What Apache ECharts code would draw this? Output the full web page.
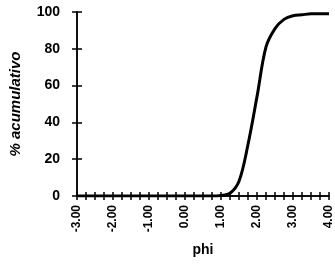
<!DOCTYPE html>
<html>
<head>
<meta charset="utf-8">
<script src="https://cdn.jsdelivr.net/npm/echarts@6/dist/echarts.min.js"></script>
<style>
  html, body { margin: 0; padding: 0; background: #fff; }
  #chart { width: 335px; height: 274px; }
</style>
</head>
<body>
<div id="chart"></div>
<script>
const phi = [-3.00, -2.75, -2.50, -2.25, -2.00, -1.75, -1.50, -1.25, -1.00, -0.75, -0.50, -0.25,
    0.00, 0.25, 0.50, 0.75, 1.00, 1.25, 1.50, 1.75, 2.00, 2.25, 2.50, 2.75, 3.00, 3.25, 3.50, 3.75, 4.00];
const acumulativo = [0, 0, 0, 0, 0, 0, 0, 0, 0, 0, 0, 0,
    0, 0, 0, 0, 0.3, 1.5, 8, 28, 54, 81, 91, 96, 98, 98.5, 99, 99, 99];

const chart = echarts.init(document.getElementById('chart'));
const font = '"Liberation Sans", Arial, sans-serif';
const ink = {color: '#000', width: 1.5};

// base x axis with labels and outward ticks, plus a bare copy with inward ticks so the marks cross the line
const xBase = {
    type: 'value',
    position: 'bottom',
    min: -3,
    max: 4,
    interval: 1,
    axisLine: {show: true, onZero: false, lineStyle: ink},
    axisTick: {show: true, length: 4, lineStyle: ink},
    minorTick: {show: true, splitNumber: 4, length: 4, lineStyle: ink},
    splitLine: {show: false}
};
const yBase = {
    type: 'value',
    position: 'left',
    min: 0,
    max: 100,
    interval: 20,
    axisLine: {show: true, onZero: false, lineStyle: ink},
    axisTick: {show: true, length: 5, lineStyle: ink},
    splitLine: {show: false}
};

chart.setOption({
    animation: false,
    grid: {left: 74, top: 12, right: 2, bottom: 78},
    xAxis: [
        Object.assign({}, xBase, {
            name: 'phi',
            nameLocation: 'middle',
            nameGap: 47,
            nameTextStyle: {color: '#000', fontFamily: font, fontWeight: 'bold', fontSize: 14},
            axisLabel: {
                rotate: 90,
                color: '#000',
                fontFamily: font,
                fontWeight: 'bold',
                fontSize: 12,
                margin: 9,
                formatter: v => v.toFixed(2)
            }
        }),
        Object.assign({}, xBase, {
            axisTick: {show: true, inside: true, length: 4, lineStyle: ink},
            minorTick: {show: true, splitNumber: 4, length: 4, lineStyle: ink},
            axisLabel: {show: false}
        })
    ],
    yAxis: [
        Object.assign({}, yBase, {
            name: '% acumulativo',
            nameLocation: 'middle',
            nameGap: 54,
            nameTextStyle: {color: '#000', fontFamily: font, fontWeight: 'bold', fontStyle: 'italic', fontSize: 15},
            axisLabel: {color: '#000', fontFamily: font, fontWeight: 'bold', fontSize: 14, margin: 17}
        }),
        Object.assign({}, yBase, {
            axisTick: {show: true, inside: true, length: 5, lineStyle: ink},
            axisLabel: {show: false}
        })
    ],
    series: [{
        type: 'line',
        data: phi.map((p, i) => [p, acumulativo[i]]),
        smooth: 0.35,
        showSymbol: false,
        lineStyle: {color: '#000', width: 3}
    }]
});
</script>
</body>
</html>
